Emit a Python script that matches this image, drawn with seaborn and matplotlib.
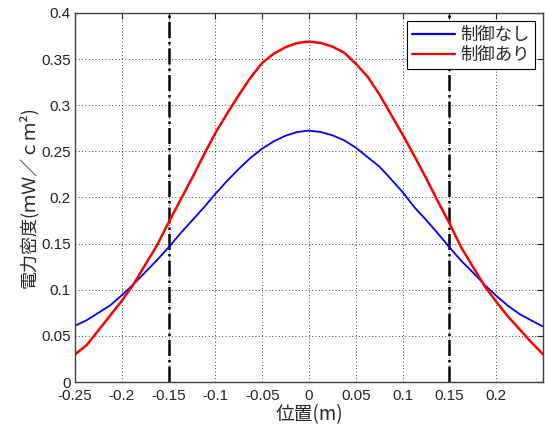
import matplotlib
matplotlib.use("Agg")
import matplotlib.pyplot as plt
import pandas as pd
import seaborn as sns

# values (step 0.0125 m)
position = [-0.25, -0.2375, -0.225, -0.2125, -0.2, -0.1875, -0.175, -0.1625, -0.15, -0.1375,
            -0.125, -0.1125, -0.1, -0.0875, -0.075, -0.0625, -0.05, -0.0375, -0.025, -0.0125,
            0.0, 0.0125, 0.025, 0.0375, 0.05, 0.0625, 0.075, 0.0875, 0.1, 0.1125,
            0.125, 0.1375, 0.15, 0.1625, 0.175, 0.1875, 0.2, 0.2125, 0.225, 0.2375, 0.25]
no_control = [0.061, 0.067, 0.075, 0.083, 0.094, 0.106, 0.119, 0.132, 0.146, 0.161,
              0.175, 0.189, 0.204, 0.218, 0.231, 0.243, 0.253, 0.261, 0.267, 0.271,
              0.2725, 0.271, 0.2674, 0.262, 0.254, 0.2438, 0.2337, 0.220, 0.2058, 0.1895,
              0.1757, 0.1612, 0.146, 0.1315, 0.1188, 0.1054, 0.0935, 0.0826, 0.0736, 0.0667, 0.0601]
with_control = [0.030, 0.040, 0.056, 0.072, 0.088, 0.106, 0.127, 0.148, 0.173, 0.197,
                0.221, 0.246, 0.270, 0.291, 0.311, 0.330, 0.346, 0.356, 0.363, 0.3675,
                0.369, 0.3675, 0.3635, 0.357, 0.345, 0.331, 0.312, 0.290, 0.268, 0.245,
                0.221, 0.196, 0.172, 0.146, 0.125, 0.104, 0.087, 0.071, 0.057, 0.043, 0.030]
series_names = ['制御なし', '制御あり']
boundary_x = [-0.15, 0.15]
x_ticks = [-0.25, -0.2, -0.15, -0.1, -0.05, 0, 0.05, 0.1, 0.15, 0.2]
y_ticks = [0, 0.05, 0.1, 0.15, 0.2, 0.25, 0.3, 0.35, 0.4]

df = pd.DataFrame({
    'x': position * 2,
    'y': no_control + with_control,
    'series': [series_names[0]] * len(position) + [series_names[1]] * len(position),
})

sns.set_theme(style="white")
plt.rcParams['font.family'] = ['Liberation Sans', 'Noto Sans CJK JP', 'DejaVu Sans']
plt.rcParams['axes.unicode_minus'] = False
cjk = ['Noto Sans CJK JP', 'DejaVu Sans']

fig = plt.figure(figsize=(5.45, 4.3), dpi=100)
ax = fig.add_axes([0.1376, 0.1116, 0.8587, 0.8582])

sns.lineplot(data=df, x='x', y='y', hue='series', hue_order=series_names,
             palette=['#0000ff', '#ff0000'], ax=ax, legend=False)
ax.lines[0].set_linewidth(1.3)
ax.lines[1].set_linewidth(1.8)

for bx in boundary_x:
    ax.axvline(bx, color='black', linestyle='-.', linewidth=1.8, zorder=1)

ax.set_xlim(-0.25, 0.2499)
ax.set_ylim(0, 0.4)
ax.set_xticks(x_ticks)
ax.set_xticklabels([f'{v:g}' for v in x_ticks])
ax.set_yticks(y_ticks)
ax.set_yticklabels([f'{v:g}' for v in y_ticks])
ax.grid(True, color='black', linestyle=(0, (1, 3)), linewidth=0.6)
ax.tick_params(direction='in', length=4, width=0.8, top=True, right=True,
               labelsize=11, colors='#222222')
ax.tick_params(axis='x', pad=5)
ax.tick_params(axis='y', pad=3)
for sp in ax.spines.values():
    sp.set_color('#404040')
    sp.set_linewidth(1.0)

ax.set_xlabel('位置(m)', family=cjk, fontsize=13.5, labelpad=1)
ax.set_ylabel('電力密度(ｍＷ／ｃｍ²)', family=cjk, fontsize=13, labelpad=2)

handles = [plt.Line2D([], [], color='#0000ff', lw=1.6),
           plt.Line2D([], [], color='#ff0000', lw=1.6)]
leg = ax.legend(handles, series_names, loc='upper right', prop={'family': cjk, 'size': 12.5},
                frameon=True, fancybox=False, framealpha=1, edgecolor='black',
                handlelength=2.5, handletextpad=0.3, borderpad=0.3, labelspacing=0.1,
                borderaxespad=0.45)
leg.get_frame().set_linewidth(0.8)

fig.savefig('out.png', dpi=100)
